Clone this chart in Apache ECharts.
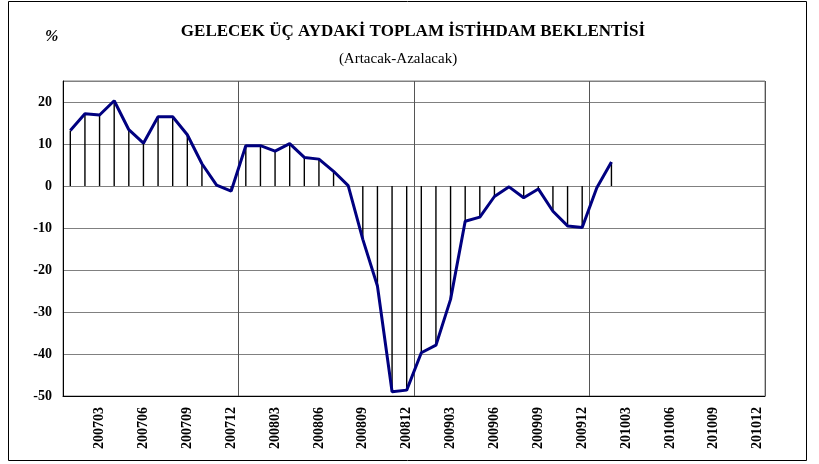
<!DOCTYPE html>
<html>
<head>
<meta charset="utf-8">
<script src="https://cdn.jsdelivr.net/npm/echarts@6/dist/echarts.min.js"></script>
<style>
  html, body { margin: 0; padding: 0; background: #fff; }
  #chart { width: 819px; height: 464px; }
</style>
</head>
<body>
<div id="chart"></div>
<script>
// aylar 200701 - 201012
const months = [];
for (let y = 2007; y <= 2010; y++) {
  for (let m = 1; m <= 12; m++) {
    months.push(y + (m < 10 ? "0" : "") + m);
  }
}

// artacak - azalacak (%), 200701 - 201002
const beklenti = [
  13.2, 17.2, 16.9, 20.3, 13.4, 10.2, 16.5, 16.5, 12.2, 5.3, 0.2, -1.2,
  9.6, 9.6, 8.3, 10.1, 6.8, 6.4, 3.5, 0.1, -12.7, -23.8, -49.0, -48.6,
  -39.7, -37.9, -27.0, -8.4, -7.4, -2.5, -0.2, -2.8, -0.7, -6.0, -9.5, -9.9,
  -0.4, 5.7
];

const yTicks = [-50, -40, -30, -20, -10, 0, 10, 20];

const chart = echarts.init(document.getElementById("chart"));
const serif = "'Liberation Serif', 'DejaVu Serif', serif";

chart.setOption({
  animation: false,
  title: [
    {
      text: "GELECEK ÜÇ AYDAKİ TOPLAM İSTİHDAM BEKLENTİSİ",
      left: 408, top: 18, textAlign: "center",
      textStyle: { fontFamily: serif, fontSize: 17, fontWeight: "bold", color: "#000" }
    },
    {
      text: "(Artacak-Azalacak)",
      left: 393, top: 47, textAlign: "center",
      textStyle: { fontFamily: serif, fontSize: 15, fontWeight: "normal", color: "#000" }
    },
    {
      text: "%",
      left: 40, top: 24,
      textStyle: { fontFamily: serif, fontSize: 16, fontWeight: "bold", fontStyle: "italic", color: "#000" }
    }
  ],
  graphic: [
    {
      type: "rect",
      shape: { x: 8.5, y: 1.5, width: 798, height: 459 },
      style: { fill: null, stroke: "#000", lineWidth: 1 },
      silent: true
    }
  ],
  grid: {
    left: 63, right: 54, top: 81, bottom: 68,
    show: true, borderColor: "#808080", borderWidth: 1
  },
  xAxis: {
    type: "category",
    data: months,
    boundaryGap: true,
    axisLine: { onZero: false, lineStyle: { color: "#000", width: 1 } },
    axisTick: { show: false },
    axisLabel: {
      rotate: 90,
      interval: (i) => i % 3 === 2,
      fontFamily: serif, fontSize: 14, fontWeight: "bold", color: "#000",
      margin: 11
    },
    splitLine: {
      show: true,
      interval: (i) => i > 0 && i % 12 === 0,
      lineStyle: { color: "#555", width: 1 }
    }
  },
  yAxis: {
    type: "value",
    min: -50, max: 25, interval: 10,
    axisLine: { show: true, lineStyle: { color: "#000", width: 1 } },
    axisTick: { show: false },
    axisLabel: {
      showMaxLabel: false,
      formatter: (v) => (yTicks.indexOf(v) >= 0 ? String(v) : ""),
      fontFamily: serif, fontSize: 14, fontWeight: "bold", color: "#000",
      margin: 11
    },
    splitLine: { show: true, lineStyle: { color: "#808080", width: 1 } }
  },
  series: [
    {
      // sıfıra inen dikey çizgiler
      type: "bar",
      data: beklenti,
      barWidth: 1.4,
      itemStyle: { color: "#000" },
      silent: true,
      z: 2
    },
    {
      type: "line",
      data: beklenti,
      showSymbol: false,
      symbol: "none",
      lineStyle: { color: "#000080", width: 3 },
      z: 3
    }
  ]
});
</script>
</body>
</html>
